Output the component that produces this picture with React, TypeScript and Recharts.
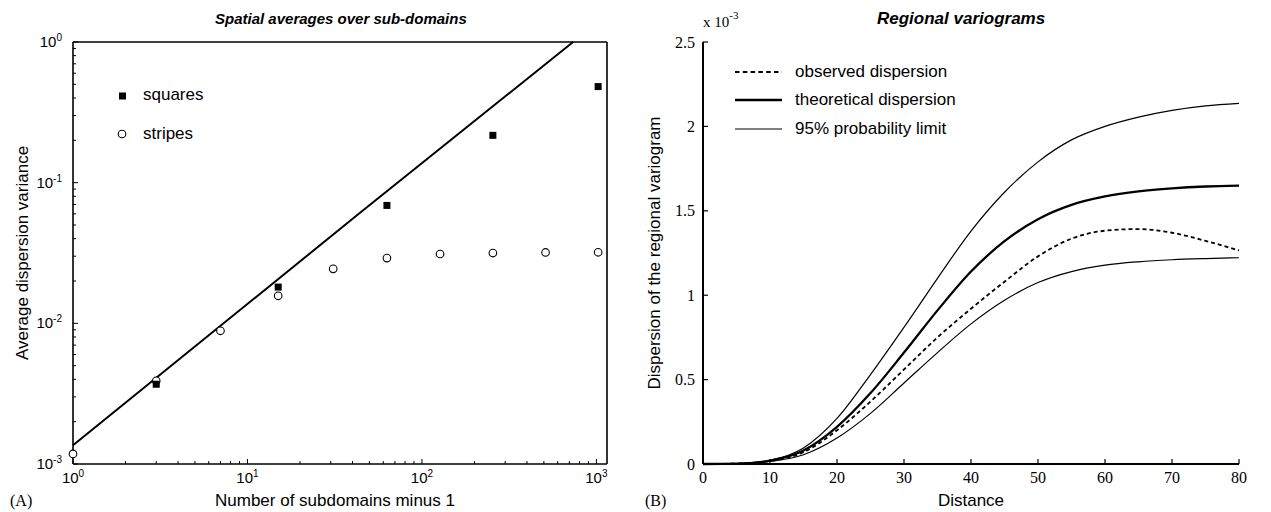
import React from 'react';
import { ComposedChart, LineChart, Line, Scatter, XAxis, YAxis } from 'recharts';

// (A) spatial averages, log-log
const squareX = [3, 15, 63, 255, 1023];
const squareY = [0.00369, 0.0181, 0.0689, 0.217, 0.482];
const circleX = [1, 3, 7, 15, 31, 63, 127, 255, 511, 1023];
const circleY = [0.00118, 0.0039, 0.00885, 0.0157, 0.0244, 0.0291, 0.0311, 0.0316, 0.0319, 0.032];
const powerX = [1, 44, 735];
const powerY = [0.00136, 0.0608, 1.0];

// (B) regional variograms, values in units of 1e-3
const distance = [0, 5, 10, 15, 20, 25, 30, 35, 40, 45, 50, 55, 60, 65, 70, 75, 80];
const upperLimit = [0, 0.002, 0.022, 0.095, 0.27, 0.53, 0.81, 1.1, 1.38, 1.61, 1.79, 1.92, 2.0, 2.055, 2.095, 2.122, 2.137];
const theoretical = [0, 0.002, 0.02, 0.08, 0.22, 0.42, 0.66, 0.91, 1.14, 1.32, 1.45, 1.535, 1.585, 1.615, 1.633, 1.644, 1.649];
const observed = [0, 0.002, 0.018, 0.07, 0.2, 0.37, 0.56, 0.75, 0.92, 1.08, 1.23, 1.335, 1.382, 1.392, 1.37, 1.322, 1.265];
const lowerLimit = [0, 0.001, 0.015, 0.055, 0.154, 0.3, 0.48, 0.66, 0.83, 0.97, 1.075, 1.14, 1.178, 1.198, 1.21, 1.217, 1.222];

const distTicks = [0, 10, 20, 30, 40, 50, 60, 70, 80];
const dispTicks = [0, 0.5, 1, 1.5, 2, 2.5];

const SANS = '"Liberation Sans", Arial, Helvetica, sans-serif';
const SERIF = '"Liberation Serif", "Times New Roman", serif';

const logTicks = (lo: number, hi: number) => {
  const out: number[] = [];
  for (let e = lo; e <= hi; e++) {
    for (let m = 1; m <= 9; m++) {
      if (e === hi && m > 1) break;
      out.push(m * Math.pow(10, e));
    }
  }
  return out;
};
const xTicks = logTicks(0, 3);
const yTicks = logTicks(-3, 0);

const isMajor = (v: number) => Math.abs(Math.log10(v) - Math.round(Math.log10(v))) < 1e-6;

const LogTick = (props: any) => {
  const { x, y, payload, side } = props;
  const v = payload.value;
  const major = isMajor(v);
  const len = major ? 5 : 3;
  const exp = Math.round(Math.log10(v));
  let line = null;
  let label = null;
  if (side === 'bottom') {
    line = <line x1={x} x2={x} y1={y} y2={y - len} stroke="#000" strokeWidth={1} />;
    if (major)
      label = (
        <text x={x} y={y + 19} textAnchor="middle" fontFamily={SANS} fontSize={15} fill="#000">
          10<tspan dy={-6} fontSize={10}>{exp}</tspan>
        </text>
      );
  } else if (side === 'top') {
    line = <line x1={x} x2={x} y1={y} y2={y + len} stroke="#000" strokeWidth={1} />;
  } else if (side === 'left') {
    line = <line x1={x} x2={x + len} y1={y} y2={y} stroke="#000" strokeWidth={1} />;
    if (major)
      label = (
        <text x={x - 11} y={y + 5} textAnchor="end" fontFamily={SANS} fontSize={15} fill="#000">
          10<tspan dy={-6} fontSize={10}>{exp}</tspan>
        </text>
      );
  } else {
    line = <line x1={x} x2={x - len} y1={y} y2={y} stroke="#000" strokeWidth={1} />;
  }
  return (
    <g>
      {line}
      {label}
    </g>
  );
};

const LinTick = (props: any) => {
  const { x, y, payload, side } = props;
  if (side === 'bottom') {
    return (
      <g>
        <line x1={x} x2={x} y1={y} y2={y - 5} stroke="#000" strokeWidth={1.2} />
        <text x={x} y={y + 19} textAnchor="middle" fontFamily={SERIF} fontSize={16} fill="#000">
          {payload.value}
        </text>
      </g>
    );
  }
  return (
    <g>
      <line x1={x} x2={x + 5} y1={y} y2={y} stroke="#000" strokeWidth={1.2} />
      <text x={x - 8} y={y + 5.5} textAnchor="end" fontFamily={SERIF} fontSize={16} fill="#000">
        {payload.value}
      </text>
    </g>
  );
};

const boxLine = { stroke: '#000', strokeWidth: 1.6 };

export default function App() {
  const squares = squareX.map((x, i) => ({ x, y: squareY[i] }));
  const circles = circleX.map((x, i) => ({ x, y: circleY[i] }));
  const power = powerX.map((x, i) => ({ x, y: powerY[i] }));
  const variogram = distance.map((d, i) => ({
    d,
    upper: upperLimit[i],
    theo: theoretical[i],
    obs: observed[i],
    lower: lowerLimit[i],
  }));

  return (
    <div style={{ position: 'absolute', left: 0, top: 0, width: 1271, height: 512, background: '#fff' }}>
      <div style={{ position: 'absolute', left: 0, top: 0 }}>
        <ComposedChart width={640} height={512} margin={{ top: 41, right: 32, bottom: 47, left: 72 }}>
          <XAxis
            xAxisId="b"
            dataKey="x"
            type="number"
            scale="log"
            domain={[1, 1150]}
            ticks={xTicks}
            interval={0}
            height={1}
            tickSize={0}
            tickMargin={0}
            tickLine={false}
            axisLine={boxLine}
            tick={(p: any) => <LogTick {...p} side="bottom" />}
          />
          <XAxis
            xAxisId="t"
            orientation="top"
            type="number"
            scale="log"
            domain={[1, 1150]}
            ticks={xTicks}
            interval={0}
            height={1}
            tickSize={0}
            tickMargin={0}
            tickLine={false}
            axisLine={boxLine}
            tick={(p: any) => <LogTick {...p} side="top" />}
          />
          <YAxis
            yAxisId="l"
            dataKey="y"
            type="number"
            scale="log"
            domain={[0.001, 1]}
            ticks={yTicks}
            interval={0}
            width={1}
            tickSize={0}
            tickMargin={0}
            tickLine={false}
            axisLine={boxLine}
            tick={(p: any) => <LogTick {...p} side="left" />}
          />
          <YAxis
            yAxisId="r"
            orientation="right"
            type="number"
            scale="log"
            domain={[0.001, 1]}
            ticks={yTicks}
            interval={0}
            width={1}
            tickSize={0}
            tickMargin={0}
            tickLine={false}
            axisLine={boxLine}
            tick={(p: any) => <LogTick {...p} side="right" />}
          />
          <Line
            xAxisId="b"
            yAxisId="l"
            data={power}
            dataKey="y"
            type="linear"
            stroke="#000"
            strokeWidth={2}
            dot={false}
            isAnimationActive={false}
          />
          <Scatter
            xAxisId="b"
            yAxisId="l"
            data={circles}
            isAnimationActive={false}
            shape={(p: any) => <circle cx={p.cx} cy={p.cy} r={3.8} fill="#fff" stroke="#000" strokeWidth={1.1} />}
          />
          <Scatter
            xAxisId="b"
            yAxisId="l"
            data={squares}
            isAnimationActive={false}
            shape={(p: any) => <rect x={p.cx - 3.5} y={p.cy - 3.5} width={7} height={7} fill="#000" />}
          />
        </ComposedChart>
      </div>

      <div style={{ position: 'absolute', left: 640, top: 0 }}>
        <LineChart width={631} height={512} data={variogram} margin={{ top: 42, right: 32, bottom: 47, left: 62 }}>
          <XAxis
            dataKey="d"
            type="number"
            domain={[0, 80]}
            ticks={distTicks}
            interval={0}
            height={1}
            tickSize={0}
            tickMargin={0}
            tickLine={false}
            axisLine={{ stroke: '#000', strokeWidth: 2 }}
            tick={(p: any) => <LinTick {...p} side="bottom" />}
          />
          <YAxis
            type="number"
            domain={[0, 2.5]}
            ticks={dispTicks}
            interval={0}
            width={1}
            tickSize={0}
            tickMargin={0}
            tickLine={false}
            axisLine={{ stroke: '#000', strokeWidth: 2 }}
            tick={(p: any) => <LinTick {...p} side="left" />}
          />
          <Line dataKey="upper" type="monotone" stroke="#000" strokeWidth={1.2} dot={false} isAnimationActive={false} />
          <Line dataKey="lower" type="monotone" stroke="#000" strokeWidth={1.2} dot={false} isAnimationActive={false} />
          <Line
            dataKey="obs"
            type="monotone"
            stroke="#000"
            strokeWidth={1.8}
            strokeDasharray="4 3"
            dot={false}
            isAnimationActive={false}
          />
          <Line dataKey="theo" type="monotone" stroke="#000" strokeWidth={2.3} dot={false} isAnimationActive={false} />
        </LineChart>
      </div>

      <svg
        width={1271}
        height={512}
        style={{ position: 'absolute', left: 0, top: 0, pointerEvents: 'none' }}
      >
        <g fontFamily={SANS} fill="#000">
          <text x={215} y={24} fontSize={15} fontWeight="bold" fontStyle="italic">
            Spatial averages over sub-domains
          </text>
          <text x={877} y={24} fontSize={17} fontWeight="bold" fontStyle="italic">
            Regional variograms
          </text>
          <text x={335} y={506} fontSize={17} textAnchor="middle">
            Number of subdomains minus 1
          </text>
          <text x={971} y={506} fontSize={17} textAnchor="middle">
            Distance
          </text>
          <text x={28} y={253} fontSize={17} textAnchor="middle" transform="rotate(-90 28 253)">
            Average dispersion variance
          </text>
          <text x={660} y={253} fontSize={17} textAnchor="middle" transform="rotate(-90 660 253)">
            Dispersion of the regional variogram
          </text>

          <rect x={119} y={92.5} width={7} height={7} fill="#000" />
          <text x={143} y={100} fontSize={17}>
            squares
          </text>
          <circle cx={122} cy={134} r={3.8} fill="#fff" stroke="#000" strokeWidth={1.1} />
          <text x={143} y={139} fontSize={17}>
            stripes
          </text>

          <line x1={735} x2={782} y1={72} y2={72} stroke="#000" strokeWidth={1.8} strokeDasharray="4.5 3.3" />
          <text x={795} y={77} fontSize={17}>
            observed dispersion
          </text>
          <line x1={735} x2={782} y1={100} y2={100} stroke="#000" strokeWidth={2.3} />
          <text x={795} y={105} fontSize={17}>
            theoretical dispersion
          </text>
          <line x1={735} x2={782} y1={129} y2={129} stroke="#000" strokeWidth={1.2} />
          <text x={795} y={134} fontSize={17}>
            95% probability limit
          </text>
        </g>
        <g fontFamily={SERIF} fill="#000">
          <text x={10} y={506} fontSize={16}>
            (A)
          </text>
          <text x={645} y={506} fontSize={16}>
            (B)
          </text>
          <text x={703} y={27} fontSize={15}>
            x 10<tspan dy={-8} fontSize={11}>-3</tspan>
          </text>
        </g>
      </svg>
    </div>
  );
}
